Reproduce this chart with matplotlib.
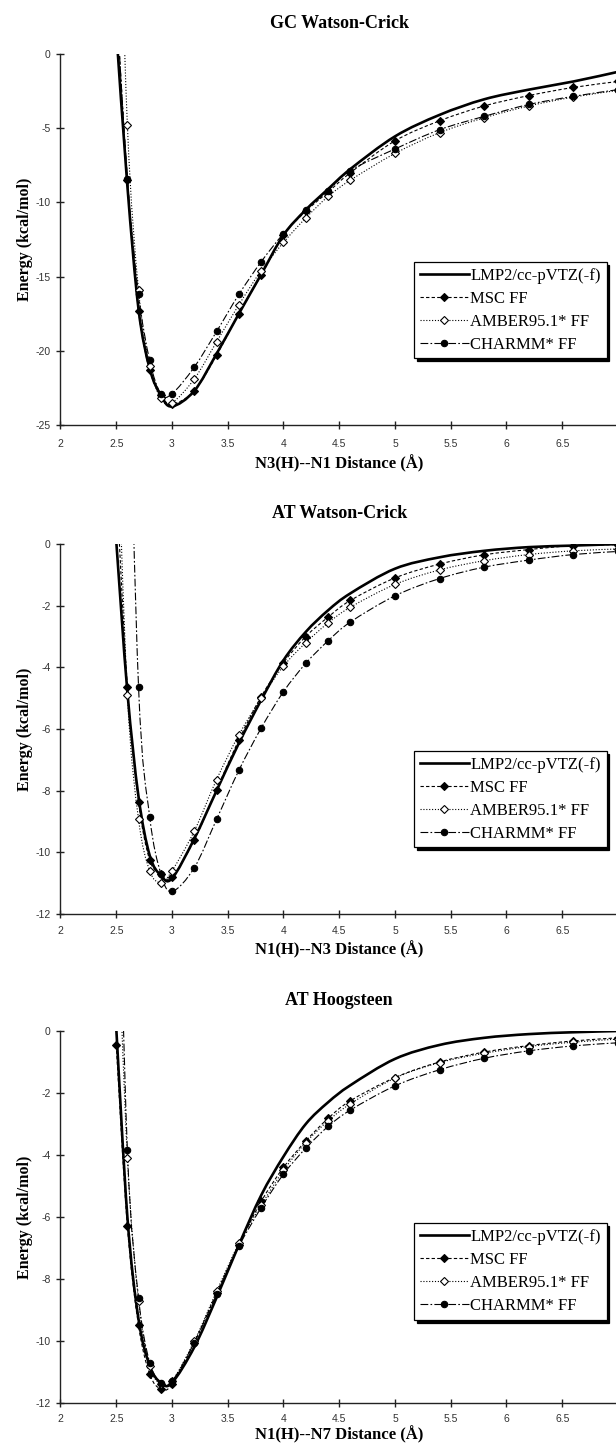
import numpy as np
import matplotlib
matplotlib.use("Agg")
import matplotlib.pyplot as plt
from matplotlib.path import Path
from matplotlib.patches import PathPatch

## distances (A) where the energies were computed
dist = [2.5, 2.6, 2.7, 2.8, 2.9, 3.0, 3.2, 3.4, 3.6, 3.8, 4.0,
        4.2, 4.4, 4.6, 5.0, 5.4, 5.8, 6.2, 6.6, 7.0]

## GC Watson-Crick
gc_lmp2 = [1.6, -8.9, -17.2, -21.2, -23.0, -23.75, -22.7, -20.2, -17.5, -14.85, -12.2,
           -10.5, -9.1, -7.75, -5.55, -4.1, -3.05, -2.4, -1.85, -1.2]
gc_msc = [3.6, -8.5, -17.3, -21.3, -23.0, -23.6, -22.7, -20.3, -17.5, -14.9, -12.2,
          -10.6, -9.3, -8.0, -5.85, -4.5, -3.5, -2.8, -2.25, -1.85]
gc_amber = [19.0, -4.8, -15.9, -21.0, -23.2, -23.5, -21.9, -19.4, -16.9, -14.6, -12.7,
            -11.05, -9.6, -8.5, -6.7, -5.3, -4.3, -3.5, -2.9, -2.45]
gc_charmm = [3.6, -8.4, -16.2, -20.65, -22.9, -22.9, -21.1, -18.7, -16.2, -14.0, -12.1,
             -10.5, -9.2, -7.85, -6.4, -5.1, -4.2, -3.4, -2.85, -2.4]

## AT Watson-Crick
atwc_lmp2 = [0.1, -4.8, -8.2, -10.1, -10.75, -10.85, -9.56, -8.0, -6.46, -5.06, -3.77,
             -2.85, -2.15, -1.6, -0.8, -0.43, -0.22, -0.1, -0.05, 0.0]
atwc_msc = [2.0, -4.63, -8.37, -10.25, -10.7, -10.8, -9.6, -7.97, -6.35, -4.95, -3.85,
            -3.0, -2.37, -1.83, -1.1, -0.65, -0.35, -0.18, -0.05, -0.02]
atwc_amber = [4.9, -4.9, -8.93, -10.6, -10.98, -10.6, -9.31, -7.64, -6.19, -5.0, -3.96,
              -3.2, -2.56, -2.05, -1.31, -0.84, -0.54, -0.34, -0.22, -0.16]
atwc_charmm = [25.0, 8.6, -4.63, -8.85, -10.69, -11.27, -10.5, -8.93, -7.34, -5.97, -4.79,
               -3.87, -3.14, -2.53, -1.68, -1.12, -0.75, -0.52, -0.34, -0.24]

## AT Hoogsteen
ath_lmp2 = [0.1, -6.0, -9.3, -10.8, -11.35, -11.35, -10.2, -8.6, -6.9, -5.3, -4.05,
            -3.0, -2.3, -1.75, -0.9, -0.45, -0.22, -0.1, -0.04, 0.0]
ath_msc = [-0.45, -6.3, -9.5, -11.07, -11.55, -11.4, -10.05, -8.45, -6.9, -5.5, -4.4,
           -3.55, -2.82, -2.25, -1.5, -1.0, -0.68, -0.47, -0.32, -0.22]
ath_amber = [5.0, -4.1, -8.7, -10.8, -11.4, -11.3, -10.0, -8.4, -6.85, -5.62, -4.5,
             -3.6, -2.9, -2.35, -1.52, -1.02, -0.72, -0.5, -0.36, -0.26]
ath_charmm = [9.0, -3.85, -8.6, -10.7, -11.35, -11.3, -10.05, -8.5, -6.95, -5.7, -4.62,
              -3.78, -3.08, -2.55, -1.77, -1.25, -0.88, -0.64, -0.48, -0.38]

titles = ["GC Watson-Crick", "AT Watson-Crick", "AT Hoogsteen"]
xlabels = ["N3(H)--N1 Distance (\u00c5)", "N1(H)--N3 Distance (\u00c5)", "N1(H)--N7 Distance (\u00c5)"]
names = ["LMP2/cc-pVTZ(-f)", "MSC FF", "AMBER95.1* FF", "CHARMM* FF"]
xticks = [2, 2.5, 3, 3.5, 4, 4.5, 5, 5.5, 6, 6.5, 7]
xticklabels = ["2", "2.5", "3", "3.5", "4", "4.5", "5", "5.5", "6", "6.5", "7"]

panels = [
    (gc_lmp2, gc_msc, gc_amber, gc_charmm, -25, [0, -5, -10, -15, -20, -25]),
    (atwc_lmp2, atwc_msc, atwc_amber, atwc_charmm, -12, [0, -2, -4, -6, -8, -10, -12]),
    (ath_lmp2, ath_msc, ath_amber, ath_charmm, -12, [0, -2, -4, -6, -8, -10, -12]),
]

# axes boxes in figure fraction (left, bottom, width, height)
boxes = [(0.0982, 0.7059, 0.905, 0.2567),
         (0.0982, 0.3675, 0.905, 0.2560),
         (0.0982, 0.0291, 0.905, 0.2574)]
leg_top = [0.44, 0.441, 0.483]
xtick_pad = [7, 6, 5]
xlabel_pad = [4, 3, 1]

SERIF = ["Liberation Serif", "DejaVu Serif"]
SANS = ["Liberation Sans", "DejaVu Sans"]

# line style of each series: (linewidth, dashes, marker, facecolor, markersize)
styles = [
    (1.9, "-", None, "k", 0),
    (0.8, (0, (3, 2)), "D", "k", 3.6),
    (0.8, (0, (1, 1.6)), "D", "white", 3.6),
    (0.8, (0, (7, 2, 1.5, 2)), "o", "k", 4.6),
]


## smooth curve through the points (like the spreadsheet "smoothed line")
def smooth_path(x, y):
    pts = np.column_stack([x, y]).astype(float)
    p = np.vstack([pts[0], pts, pts[-1]])
    verts = [pts[0]]
    codes = [Path.MOVETO]
    for i in range(1, len(p) - 2):
        c1 = p[i] + (p[i + 1] - p[i - 1]) / 6.0
        c2 = p[i + 1] - (p[i + 2] - p[i]) / 6.0
        verts += [c1, c2, p[i + 1]]
        codes += [Path.CURVE4] * 3
    return Path(verts, codes)


fig = plt.figure(figsize=(6.16, 14.45), dpi=100)

for k, (lmp2, msc, amber, charmm, ymin, yticks) in enumerate(panels):
    ax = fig.add_axes(boxes[k])
    series = [lmp2, msc, amber, charmm]
    handles = []
    for j in [1, 2, 3, 0]:
        lw, ls, mk, fc, ms = styles[j]
        patch = PathPatch(smooth_path(dist, series[j]), fill=False, edgecolor="k",
                          lw=lw, linestyle=ls, zorder=2 if j else 3)
        ax.add_patch(patch)
        if mk:
            ax.plot(dist, series[j], ls="none", marker=mk, ms=ms, mfc=fc, mec="k",
                    mew=0.8, zorder=4)
    for j in range(4):
        lw, ls, mk, fc, ms = styles[j]
        h, = ax.plot([], [], color="k", lw=lw, linestyle=ls, marker=mk, ms=ms,
                     mfc=fc, mec="k", mew=0.8)
        handles.append(h)

    ax.set_xlim(2, 7)
    ax.set_ylim(ymin, 0)
    ax.set_xticks(xticks)
    ax.set_xticklabels(xticklabels)
    ax.set_yticks(yticks)
    ax.set_yticklabels([str(v) for v in yticks])
    for s in ["top", "right"]:
        ax.spines[s].set_visible(False)
    for s in ["left", "bottom"]:
        ax.spines[s].set_linewidth(1.0)
        ax.spines[s].set_color("#222222")
    ax.tick_params(direction="inout", length=6, width=1.0, color="#222222",
                   labelsize=7.5, labelcolor="#333333")
    ax.tick_params(axis="x", pad=xtick_pad[k])
    ax.tick_params(axis="y", pad=4)
    for lab in ax.get_xticklabels() + ax.get_yticklabels():
        lab.set_family(SANS)

    ax.set_title(titles[k], family=SERIF, fontweight="bold", fontsize=13, pad=19)
    ax.set_xlabel(xlabels[k], family=SERIF, fontweight="bold", fontsize=12,
                  labelpad=xlabel_pad[k])
    ax.set_ylabel("Energy (kcal/mol)", family=SERIF, fontweight="bold", fontsize=11.5)
    ax.yaxis.set_label_coords(-0.05, 0.5)

    leg = ax.legend(handles, names, loc="upper left", bbox_to_anchor=(0.635, leg_top[k]),
                    prop={"family": SERIF, "size": 12}, frameon=True, fancybox=False,
                    shadow={"color": "k", "alpha": 1}, numpoints=1, handlelength=2.9,
                    handletextpad=0.1, labelspacing=0.42, borderpad=0.35,
                    borderaxespad=0, framealpha=1)
    leg.get_frame().set_edgecolor("k")
    leg.get_frame().set_linewidth(0.9)

fig.savefig("out.png", dpi=100)
